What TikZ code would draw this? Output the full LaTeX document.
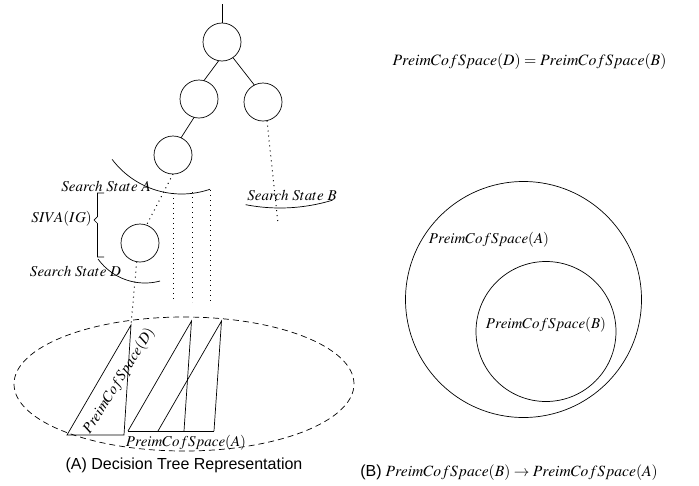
\documentclass[tikz,border=0pt]{standalone}
\usepackage{mathptmx}
\usepackage[no-math]{fontspec}
\setmainfont{Liberation Serif}
\newfontfamily\capfont{Liberation Sans}
\usetikzlibrary{shapes.geometric}
\begin{document}
\begin{tikzpicture}[x=1pt,y=-1pt,line width=0.7pt,
  font=\fontsize{15}{18}\selectfont,
  tnode/.style={draw,circle,minimum size=38pt,inner sep=0pt,outer sep=0pt},
  setc/.style={draw,circle,inner sep=0pt,outer sep=0pt},
  dots/.style={line width=1pt,dash pattern=on 1pt off 4pt},
  dsh/.style={dash pattern=on 6pt off 4pt},
  lbl/.style={inner sep=0pt},
  captxt/.style={inner sep=0pt,font=\capfont\fontsize{16}{19}\selectfont}]
\useasboundingbox (0,0) rectangle (699,485);
% tree
\coordinate (top) at (222,4);
\node[tnode] (r) at (222,42) {};
\node[tnode] (a) at (199,99) {};
\node[tnode] (b) at (263,102) {};
\node[tnode] (c) at (173,155) {};
\node[tnode] (d) at (140,243) {};
\draw (top) -- (r.north);
\draw (r.260) -- (a.75);
\draw (r.-55) -- (b.117);
\draw (a.-105) -- (c.65);
% dotted
\coordinate (bend) at (278,223);
\draw[dots] (b.-78) -- (bend);
\draw[dots] (c.south) -- (d.70);
\coordinate (v1t) at (173,193); \coordinate (v1b) at (173,302);
\coordinate (v2t) at (192,192); \coordinate (v2b) at (192,302);
\coordinate (v3t) at (210,190); \coordinate (v3b) at (210,302);
\draw[dots] (v1t) -- (v1b);
\draw[dots] (v2t) -- (v2b);
\draw[dots] (v3t) -- (v3b);
% arcs
\draw plot[domain=71:143,samples=40] ({181.6+87*cos(\x)},{107+87*sin(\x)});
\draw plot[domain=75:144,samples=40] ({145+58*cos(\x)},{225+58*sin(\x)});
\draw plot[domain=73:101,samples=30] ({280+180*cos(\x)},{28+180*sin(\x)});
% labels
\node[lbl] (sa) at (106,186) {$Search\ State\ A$};
\node[lbl] (sb) at (292,195) {$Search\ State\ B$};
\node[lbl] (sd) at (75.5,271) {$Search\ State\ D$};
\node[lbl,anchor=east] (siva) at (92,219) {$SIVA(IG)$};
% brace
\coordinate (br1) at (104,193);
\coordinate (br2) at (104,257);
\draw (br1) -- (97.5,193) -- (97.5,216.5) -- (94,220) -- (97.5,223.5) -- (97.5,257) -- (br2);
% ellipse
\node[draw,dsh,ellipse,minimum width=340pt,minimum height=134pt,inner sep=0pt] (ell) at (184,384) {};
% triangles
\coordinate (t1a) at (67,435); \coordinate (t1b) at (131,325); \coordinate (t1c) at (124,435);
\coordinate (t2a) at (128,431); \coordinate (t2b) at (191.5,321); \coordinate (t2c) at (184,431);
\coordinate (t3a) at (158,431); \coordinate (t3b) at (221.5,321); \coordinate (t3c) at (214,431);
\draw[dots] (d.-100) -- (t1b);
\draw (t1a) -- (t1b) -- (t1c) -- cycle;
\draw (t2a) -- (t2b) -- (t2c);
\draw (t3a) -- (t3b) -- (t3c);
\draw (t2a) -- (t3c);
\node[lbl,rotate=58] (pd) at (119,381) {$PreimCofSpace(D)$};
\node[lbl] (pa) at (186,443) {$PreimCofSpace(A)$};
\node[captxt] (capa) at (184,465) {(A) Decision Tree Representation};
% right side
\node[lbl,font=\fontsize{15.8}{19}\selectfont] (eq) at (529.5,62) {$PreimCofSpace(D)=PreimCofSpace(B)$};
\node[setc,minimum size=236pt] (big) at (523.5,299.5) {};
\node[setc,minimum size=140pt] (small) at (546,331.5) {};
\node[lbl] (pa2) at (489,240) {$PreimCofSpace(A)$};
\node[lbl] (pb2) at (546,325) {$PreimCofSpace(B)$};
\node[lbl,font=\fontsize{15.6}{19}\selectfont] (capb) at (509,473) {{\capfont\fontsize{16}{19}\selectfont (B)} $PreimCofSpace(B)\rightarrow PreimCofSpace(A)$};
\end{tikzpicture}
\end{document}
